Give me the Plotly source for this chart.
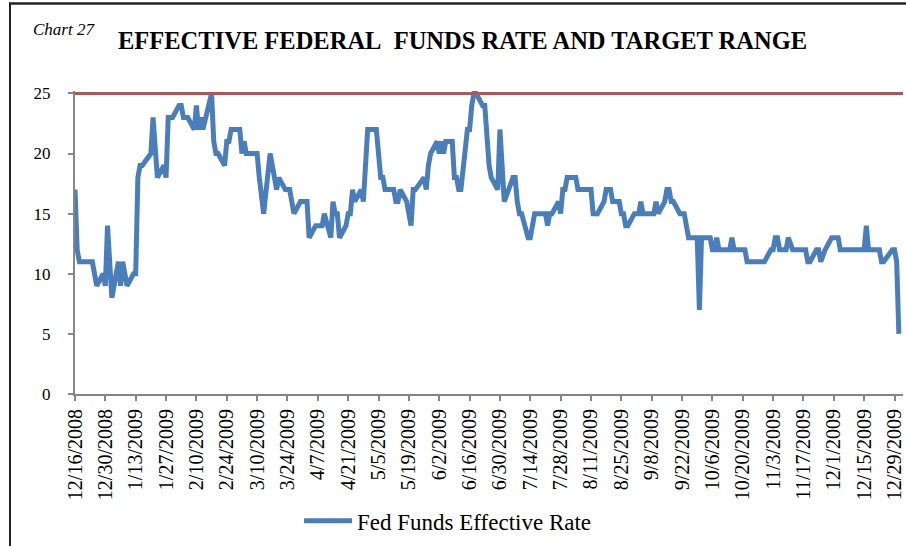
import pandas as pd
import plotly.graph_objects as go

# ---------------- data (basis points) ----------------
holidays = ["2008-12-25", "2009-01-01", "2009-01-19", "2009-02-16", "2009-05-25",
            "2009-07-03", "2009-09-07", "2009-10-12", "2009-11-11", "2009-11-26",
            "2009-12-25"]
dates = pd.bdate_range("2008-12-16", "2009-12-31", freq="C", holidays=holidays)

rate_dec08 = [17, 12, 11, 11, 11, 11, 11, 9, 10, 9, 14]
rate_jan09 = [8, 11, 9, 11, 10, 9, 10, 10, 18, 19, 19, 20, 23, 20, 18, 19, 18, 23, 23, 23]
rate_feb09 = [24, 24, 23, 23, 23, 22, 24, 22, 23, 22, 25, 21, 20, 20, 19, 21, 21, 22, 22]
rate_mar09 = [22, 20, 21, 20, 20, 20, 20, 18, 16, 15, 20, 19, 18, 17, 18, 17, 17, 17, 16, 15, 16, 16]
rate_apr09 = [16, 16, 13, 14, 14, 14, 14, 15, 13, 16, 15, 15, 13, 14, 15, 15, 17, 16, 17, 16, 20, 22]
rate_may09 = [22, 22, 20, 18, 18, 17, 17, 17, 16, 16, 17, 16, 15, 14, 17, 17, 18, 17, 19, 20]
rate_jun09 = [21, 20, 21, 20, 21, 21, 18, 18, 17, 17, 22, 22, 24, 25, 25, 24, 24, 21, 19, 18, 17, 22]
rate_jul09 = [18, 16, 18, 18, 16, 15, 15, 13, 13, 14, 15, 15, 15, 15, 14, 15, 15, 16, 15, 17, 17, 18]
rate_aug09 = [18, 18, 17, 17, 17, 17, 17, 15, 15, 15, 16, 17, 17, 17, 16, 16, 15, 15, 14, 14, 15]
rate_sep09 = [15, 15, 16, 15, 15, 15, 16, 15, 16, 17, 17, 16, 16, 15, 15, 15, 14, 13, 13, 13, 7]
rate_oct09 = [13, 13, 13, 12, 12, 13, 12, 12, 12, 13, 12, 12, 12, 12, 11, 11, 11, 11, 11, 11, 11]
rate_nov09 = [12, 12, 13, 13, 12, 12, 13, 12, 12, 12, 12, 12, 11, 11, 12, 12, 11, 12, 13]
rate_dec09 = [13, 13, 13, 12, 12, 12, 12, 12, 12, 12, 12, 14, 12, 12, 12, 12, 11, 11, 12, 12, 11, 5]

effective_rate = (rate_dec08 + rate_jan09 + rate_feb09 + rate_mar09 + rate_apr09 + rate_may09
                  + rate_jun09 + rate_jul09 + rate_aug09 + rate_sep09 + rate_oct09 + rate_nov09
                  + rate_dec09)
assert len(effective_rate) == len(dates)

target_upper = 25

tick_dates = ["2008-12-16", "2008-12-30", "2009-01-13", "2009-01-27", "2009-02-10", "2009-02-24",
              "2009-03-10", "2009-03-24", "2009-04-07", "2009-04-21", "2009-05-05", "2009-05-19",
              "2009-06-02", "2009-06-16", "2009-06-30", "2009-07-14", "2009-07-28", "2009-08-11",
              "2009-08-25", "2009-09-08", "2009-09-22", "2009-10-06", "2009-10-20", "2009-11-03",
              "2009-11-17", "2009-12-01", "2009-12-15", "2009-12-29"]
tick_labels = ["12/16/2008", "12/30/2008", "1/13/2009", "1/27/2009", "2/10/2009", "2/24/2009",
               "3/10/2009", "3/24/2009", "4/7/2009", "4/21/2009", "5/5/2009", "5/19/2009",
               "6/2/2009", "6/16/2009", "6/30/2009", "7/14/2009", "7/28/2009", "8/11/2009",
               "8/25/2009", "9/8/2009", "9/22/2009", "10/6/2009", "10/20/2009", "11/3/2009",
               "11/17/2009", "12/1/2009", "12/15/2009", "12/29/2009"]
y_ticks = [0, 5, 10, 15, 20, 25]

SERIF = "Liberation Serif, Times New Roman, serif"
AXIS_GREY = "#868686"

# pixel helpers for placing annotations (plot area: x 75..903, y 91..394)
PX_L, PX_W, PX_B, PX_H = 75, 828, 394, 303


def px_x(px):
    return (px - PX_L) / PX_W


def px_y(py):
    return (PX_B - py) / PX_H


fig = go.Figure()
fig.add_trace(go.Scatter(
    x=dates, y=effective_rate, mode="lines", name="Fed Funds Effective Rate",
    line=dict(color="#4A7EBB", width=5),
))
fig.add_trace(go.Scatter(
    x=[dates[0], pd.Timestamp("2010-01-01 22:00")], y=[target_upper, target_upper],
    mode="lines", name="Target Range", showlegend=False,
    line=dict(color="#C0504D", width=3),
))

fig.update_layout(
    width=906, height=546,
    margin=dict(l=PX_L, r=906 - PX_L - PX_W, t=PX_B - PX_H, b=546 - PX_B, autoexpand=False),
    paper_bgcolor="white", plot_bgcolor="white",
    font=dict(family=SERIF, color="black"),
    showlegend=True,
    legend=dict(
        orientation="h", xref="container", yref="container",
        x=0.494, xanchor="center", y=0.046, yanchor="middle",
        font=dict(family=SERIF, size=23, color="black"),
        bgcolor="rgba(0,0,0,0)", itemwidth=48,
    ),
    xaxis=dict(
        type="date", automargin=False,
        range=["2008-12-16", "2010-01-01 22:00"],
        tickvals=tick_dates, ticktext=tick_labels, tickangle=-90,
        tickfont=dict(family=SERIF, size=20, color="black"),
        showgrid=False, zeroline=False,
        showline=True, linecolor=AXIS_GREY, linewidth=2,
        ticks="outside", ticklen=5, tickcolor=AXIS_GREY, tickwidth=1.5,
    ),
    yaxis=dict(
        range=[0, 25.2], automargin=False,
        tickvals=y_ticks, ticktext=[str(v) for v in y_ticks],
        tickfont=dict(family=SERIF, size=17, color="black"),
        showgrid=False, zeroline=False,
        showline=True, linecolor=AXIS_GREY, linewidth=2,
        ticks="outside", ticklen=5, tickcolor=AXIS_GREY, tickwidth=1.5,
        ticklabelstandoff=14,
    ),
    annotations=[
        dict(text="<b>EFFECTIVE FEDERAL\u00a0 FUNDS RATE AND TARGET RANGE</b>",
             xref="paper", yref="paper", x=px_x(462), y=px_y(40),
             xanchor="center", yanchor="middle", showarrow=False,
             font=dict(family=SERIF, size=24.5, color="black")),
        dict(text="<i>Chart 27</i>",
             xref="paper", yref="paper", x=px_x(31), y=px_y(30),
             xanchor="left", yanchor="middle", showarrow=False,
             font=dict(family=SERIF, size=17, color="black")),
    ],
    shapes=[
        dict(type="line", xref="paper", yref="paper",
             x0=px_x(9), x1=px_x(906), y0=px_y(3.5), y1=px_y(3.5),
             line=dict(color="#222222", width=2.5)),
        dict(type="line", xref="paper", yref="paper",
             x0=px_x(10), x1=px_x(10), y0=px_y(3), y1=px_y(546),
             line=dict(color="#222222", width=2)),
    ],
)

fig.write_html(
    "out.html",
    config={"displayModeBar": False},
    post_script="document.body.style.margin='0px';document.body.style.overflow='hidden';",
)
